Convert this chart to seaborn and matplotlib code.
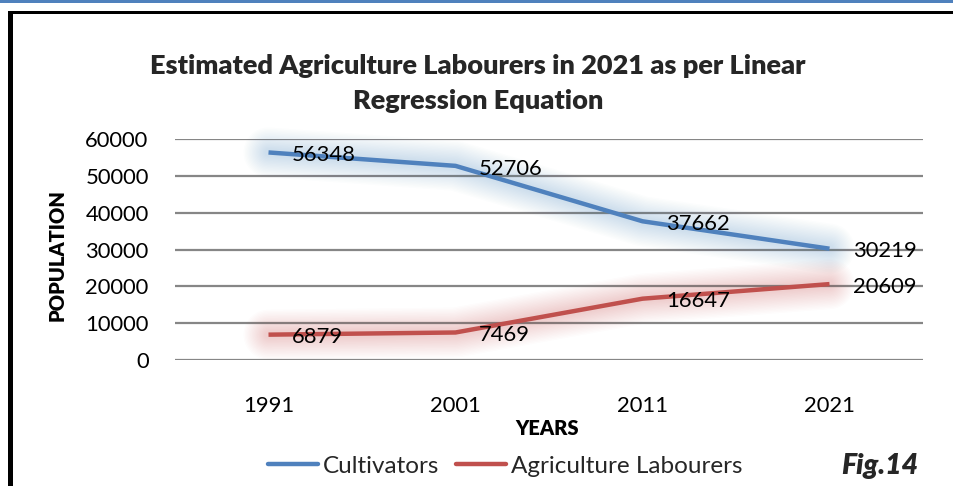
import matplotlib
matplotlib.use("Agg")
import matplotlib.pyplot as plt
from matplotlib.lines import Line2D
from matplotlib.patches import Rectangle
import seaborn as sns
import pandas as pd

years = ["1991", "2001", "2011", "2021"]
cultivators = [56348, 52706, 37662, 30219]
labourers = [6879, 7469, 16647, 20609]
series_names = ["Cultivators", "Agriculture Labourers"]
colors = ["#4F81BD", "#C0504D"]

sns.set_theme(style="white")
plt.rcParams["font.family"] = ["Lato", "DejaVu Sans"]

df = pd.DataFrame({
    "year": years * 2,
    "pos": list(range(len(years))) * 2,
    "value": cultivators + labourers,
    "series": [series_names[0]] * 4 + [series_names[1]] * 4,
})

W, H = 954, 486
fig = plt.figure(figsize=(W / 100, H / 100), dpi=100)
fig.patch.set_facecolor("white")

ax = fig.add_axes([175 / W, (H - 360) / H, 748 / W, 221 / H])
ax.set_facecolor("none")

# soft glow under each series
for name, col in zip(series_names, colors):
    sub = df[df.series == name]
    for lw in range(36, 4, -2):
        ax.plot(sub.pos, sub.value, color=col, lw=lw, alpha=0.015,
                solid_capstyle="round", solid_joinstyle="round", clip_on=False, zorder=1)

sns.lineplot(data=df, x="pos", y="value", hue="series", palette=colors,
             linewidth=3.2, ax=ax, legend=False, zorder=3,
             estimator=None, sort=False)
for ln in ax.lines[-2:]:
    ln.set_solid_capstyle("butt")

# value labels next to each point
for name in series_names:
    sub = df[df.series == name]
    for p, v in zip(sub.pos, sub.value):
        ax.annotate(f"{v}", (p, v), xytext=(17, -2), textcoords="offset points",
                    ha="left", va="center", fontsize=15.8, color="black", zorder=4)

ax.set_xlim(-0.5, 3.5)
ax.set_ylim(0, 60000)
ax.set_yticks(range(0, 60001, 10000))
ax.set_xticks(range(len(years)))
ax.set_xticklabels(years)
ax.yaxis.grid(True, color="#868686", lw=1.6, zorder=0)
ax.xaxis.grid(False)
for s in ax.spines.values():
    s.set_visible(False)
ax.tick_params(axis="y", length=0, pad=19, labelsize=15.8, labelcolor="black")
ax.tick_params(axis="x", length=0, pad=26, labelsize=15.8, labelcolor="black")

ax.set_xlabel("YEARS", fontsize=14.5, fontweight=800, color="black")
ax.xaxis.set_label_coords((547 - 175) / 748, (360 - 419) / 221)
ax.set_ylabel("POPULATION", fontsize=14.5, fontweight=800, color="black")
ax.yaxis.set_label_coords((67 - 175) / 748, 0.5 - (255 - 249.5) / 221)

title_lines = ["Estimated Agriculture Labourers in 2021 as per Linear", "Regression Equation"]
for line, y_px in zip(title_lines, [66, 101]):
    fig.text(478 / W, 1 - y_px / H, line, ha="center", va="center",
             fontsize=19.5, fontweight=800)

handles = [Line2D([0], [0], color=c, lw=3.2) for c in colors]
fig.legend(handles, series_names, loc="center", bbox_to_anchor=(505 / W, 1 - 466 / H),
           ncol=2, frameon=False, fontsize=17.5, handlelength=2.05, handletextpad=0.2,
           columnspacing=0.7)

fig.text(918 / W, 1 - 466 / H, "Fig.14", ha="right", va="center", fontsize=20.5,
         fontweight=800, fontstyle="italic")

# page decoration: blue rule and black frame
fig.add_artist(Rectangle((0, 1 - 3 / H), 1, 3 / H, transform=fig.transFigure,
                         color="#4F81BD", lw=0))
fig.add_artist(Rectangle((8 / W, 0), 5 / W, 1 - 11 / H, transform=fig.transFigure,
                         color="black", lw=0))
fig.add_artist(Rectangle((8 / W, 1 - 14 / H), 1, 3 / H, transform=fig.transFigure,
                         color="black", lw=0))

fig.savefig("out.png", dpi=100)
